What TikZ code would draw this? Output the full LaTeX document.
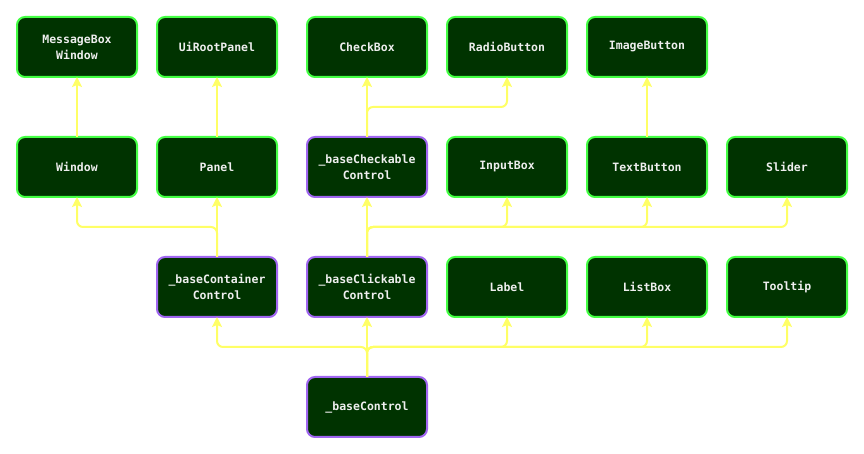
\documentclass[tikz,border=0pt]{standalone}
\usepackage{fontspec}
\setmonofont{DejaVu Sans Mono}
\usetikzlibrary{arrows.meta, positioning}
\definecolor{boxfill}{HTML}{003300}
\definecolor{leafgreen}{HTML}{44FF44}
\definecolor{abspurple}{HTML}{A066F0}
\definecolor{linkyellow}{HTML}{FFFF66}
\definecolor{labelgrey}{HTML}{EEEEEE}
\tikzset{
  cls/.style={
    rectangle, rounded corners=8pt, draw=#1, fill=boxfill, line width=2pt,
    minimum width=120pt, minimum height=60pt, outer sep=0pt,
    align=center, text=labelgrey,
    font=\ttfamily\bfseries\fontsize{11.5}{16}\selectfont
  },
  cls/.default=leafgreen,
  abscls/.style={cls=abspurple},
  link/.style={
    -{Stealth[length=10pt,width=10pt,inset=2pt]}, line width=2pt,
    draw=linkyellow, rounded corners=6pt
  }
}
\begin{document}
\begin{tikzpicture}[node distance=60pt and 20pt]
  \useasboundingbox[fill=white] (0pt,0pt) rectangle (864pt,454pt);
  \node[abscls] (basectrl) at (367pt,47pt) {\_baseControl};
  \node[abscls, above=of basectrl] (clickable) {\_baseClickable\\Control};
  \node[abscls, left=30pt of clickable] (container) {\_baseContainer\\Control};
  \node[cls, right=of clickable] (label) {Label};
  \node[cls, right=of label] (listbox) {ListBox};
  \node[cls, right=of listbox] (tooltip) {Tooltip};
  \node[abscls, above=of clickable] (checkable) {\_baseCheckable\\Control};
  \node[cls, above=of container] (panel) {Panel};
  \node[cls, left=of panel] (window) {Window};
  \node[cls, right=of checkable] (inputbox) {InputBox};
  \node[cls, right=of inputbox] (textbutton) {TextButton};
  \node[cls, right=of textbutton] (slider) {Slider};
  \node[cls, above=of window] (msgwindow) {MessageBox\\Window};
  \node[cls, above=of panel] (uiroot) {UiRootPanel};
  \node[cls, above=of checkable] (checkbox) {CheckBox};
  \node[cls, right=of checkbox] (radio) {RadioButton};
  \node[cls, above=of textbutton] (imagebutton) {ImageButton};
  \foreach \t in {container,label,listbox,tooltip}{%
    \draw[link] (basectrl.north) -- ++(0,30pt) -| (\t.south);}
  \foreach \t in {inputbox,textbutton,slider}{%
    \draw[link] (clickable.north) -- ++(0,30pt) -| (\t.south);}
  \draw[link] (container.north) -- ++(0,30pt) -| (window.south);
  \draw[link] (checkable.north) -- ++(0,30pt) -| (radio.south);
  \draw[link] (basectrl) -- (clickable);
  \draw[link] (clickable) -- (checkable);
  \draw[link] (container) -- (panel);
  \draw[link] (checkable) -- (checkbox);
  \draw[link] (window) -- (msgwindow);
  \draw[link] (panel) -- (uiroot);
  \draw[link] (textbutton) -- (imagebutton);
\end{tikzpicture}
\end{document}
